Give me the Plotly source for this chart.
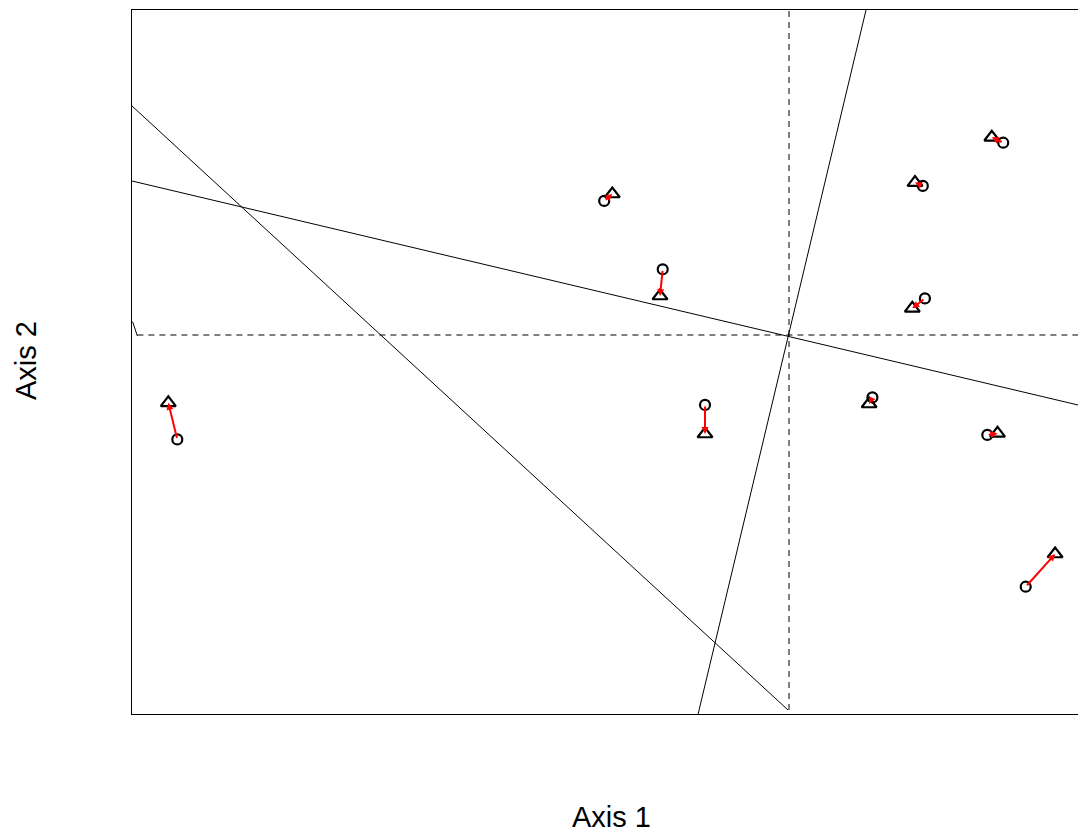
import plotly.graph_objects as go

# Procrustes ordination: target configuration (circles) and rotated configuration (triangles)
target_x = [-2.039, -0.616, -0.421, -0.280, 0.714, 0.446, 0.453, 0.278, 0.661, 0.789]
target_y = [-0.348, 0.447, 0.219, -0.233, 0.641, 0.497, 0.122, -0.208, -0.333, -0.839]
rotated_x = [-2.069, -0.589, -0.430, -0.280, 0.676, 0.420, 0.411, 0.267, 0.695, 0.887]
rotated_y = [-0.226, 0.470, 0.130, -0.330, 0.659, 0.508, 0.089, -0.230, -0.328, -0.730]

# Reference axes: dashed origin axes and solid rotation axes (segment end points)
dashed_x0 = [-2.172, 0.0]
dashed_y0 = [0.0, -1.25]
dashed_x1 = [0.9633, 0.0]
dashed_y1 = [0.0, 1.0833]

solid_x0 = [-2.19, -0.303, -2.19, -2.188]
solid_y0 = [0.5133, -1.2633, 0.7633, 0.0443]
solid_x1 = [0.9633, 0.2567, -0.0033, -2.172]
solid_y1 = [-0.2333, 1.0833, -1.25, -0.0033]

x_range = [-2.19, 0.9633]
y_range = [-1.2633, 1.0833]

fig = go.Figure()


def segments(x0, y0, x1, y1):
    xs, ys = [], []
    for a, b, c, d in zip(x0, y0, x1, y1):
        xs += [a, c, None]
        ys += [b, d, None]
    return xs, ys


dx, dy = segments(dashed_x0, dashed_y0, dashed_x1, dashed_y1)
fig.add_trace(go.Scatter(x=dx, y=dy, mode="lines",
                         line=dict(color="black", width=1, dash="6px,5px"),
                         hoverinfo="skip", showlegend=False))

sx, sy = segments(solid_x0, solid_y0, solid_x1, solid_y1)
fig.add_trace(go.Scatter(x=sx, y=sy, mode="lines",
                         line=dict(color="black", width=1),
                         hoverinfo="skip", showlegend=False))

fig.add_trace(go.Scatter(x=rotated_x, y=rotated_y, mode="markers",
                         marker=dict(symbol="triangle-up-open", size=13, color="black",
                                     line=dict(color="black", width=2.2)),
                         showlegend=False))

fig.add_trace(go.Scatter(x=target_x, y=target_y, mode="markers",
                         marker=dict(symbol="circle-open", size=10, color="black",
                                     line=dict(color="black", width=2.2)),
                         showlegend=False))

# Red arrows from target to rotated positions
for x0, y0, x1, y1 in zip(target_x, target_y, rotated_x, rotated_y):
    fig.add_annotation(x=x1, y=y1, ax=x0, ay=y0, xref="x", yref="y", axref="x", ayref="y",
                       text="", showarrow=True, arrowhead=2, arrowsize=0.7,
                       arrowwidth=2, arrowcolor="red", standoff=0, startstandoff=0)

fig.add_annotation(text="Axis 1", x=(611 - 132) / 946, y=(714 - 817) / 704, xref="paper", yref="paper",
                   showarrow=False, xanchor="center", yanchor="middle",
                   font=dict(family="Liberation Sans, Arial", size=29, color="black"))
fig.add_annotation(text="Axis 2", x=(26 - 132) / 946, y=(714 - 361) / 704, xref="paper", yref="paper",
                   showarrow=False, xanchor="center", yanchor="middle", textangle=-90,
                   font=dict(family="Liberation Sans, Arial", size=29, color="black"))

fig.update_xaxes(range=x_range, showgrid=False, zeroline=False, showticklabels=False,
                 ticks="", showline=True, linecolor="black", linewidth=1, mirror=True)
fig.update_yaxes(range=y_range, showgrid=False, zeroline=False, showticklabels=False,
                 ticks="", showline=True, linecolor="black", linewidth=1, mirror=False)

fig.update_layout(width=1078, height=833, margin=dict(l=132, r=0, t=10, b=119),
                  plot_bgcolor="white", paper_bgcolor="white")

fig.write_html("out.html")
